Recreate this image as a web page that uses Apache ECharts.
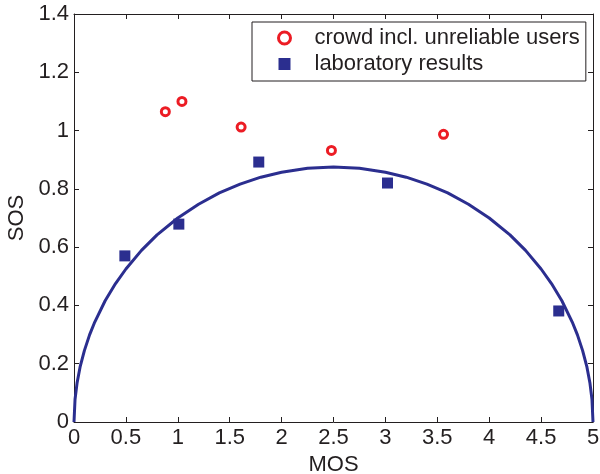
<!DOCTYPE html>
<html>
<head>
<meta charset="utf-8">
<script src="https://cdn.jsdelivr.net/npm/echarts@6/dist/echarts.min.js"></script>
<style>
  html, body { margin: 0; padding: 0; background: #fff; }
  #chart { width: 600px; height: 474px; }
</style>
</head>
<body>
<div id="chart"></div>
<script>
// crowd incl. unreliable users (MOS, SOS)
const crowdMos = [0.88, 1.04, 1.61, 2.48, 3.56]
const crowdSos = [1.065, 1.10, 1.012, 0.932, 0.987]

// laboratory results
const labMos = [0.49, 1.01, 1.78, 3.02, 4.67]
const labSos = [0.570, 0.679, 0.892, 0.820, 0.381]

// fitted SOS curve
const fitMos = [0, 0.01, 0.03, 0.06, 0.1, 0.15, 0.2, 0.3, 0.4, 0.5, 0.65, 0.8, 1.0, 1.2, 1.4, 1.6, 1.8, 2.0, 2.25, 2.5,
  2.75, 3.0, 3.2, 3.4, 3.6, 3.8, 4.0, 4.2, 4.35, 4.5, 4.6, 4.7, 4.8, 4.85, 4.9, 4.94, 4.97, 4.99, 5]
const fitSos = [0, 0.078, 0.135, 0.191, 0.245, 0.299, 0.343, 0.416, 0.475, 0.525, 0.589, 0.642, 0.700, 0.747, 0.786, 0.816, 0.840, 0.857, 0.871, 0.875,
  0.871, 0.857, 0.840, 0.816, 0.786, 0.747, 0.700, 0.642, 0.589, 0.525, 0.475, 0.416, 0.343, 0.299, 0.245, 0.191, 0.135, 0.078, 0]

const FONT = 'Liberation Sans'
const FS = 22
const TXT = '#231f20'
const RED = '#ec1c24'
const BLUE = '#2b2e8f'

const chart = echarts.init(document.getElementById('chart'))

const axisBase = {
  axisLine: { show: true, onZero: false, lineStyle: { color: TXT, width: 1 } },
  axisTick: { show: true, inside: true, length: 5, lineStyle: { color: TXT } },
  splitLine: { show: false },
}

chart.setOption({
  animation: false,
  backgroundColor: '#fff',
  textStyle: { fontFamily: FONT },
  grid: { left: 74, right: 7, top: 14, bottom: 52, containLabel: false, outerBoundsMode: 'none' },
  legend: {
    orient: 'vertical',
    left: 252,
    top: 22,
    backgroundColor: '#fff',
    borderColor: TXT,
    borderWidth: 1,
    padding: [3, 6, 4, 25],
    itemGap: 0,
    itemWidth: 12,
    itemHeight: 12,
    textStyle: { fontSize: FS, lineHeight: 26, color: TXT, fontFamily: FONT, padding: [0, 0, 0, 19] },
    data: [
      { name: 'crowd incl. unreliable users', itemStyle: { borderWidth: 3 } },
      'laboratory results',
    ],
  },
  xAxis: [
    {
      ...axisBase,
      type: 'value',
      min: 0, max: 5, interval: 0.5,
      name: 'MOS',
      nameLocation: 'middle',
      nameGap: 25,
      nameTextStyle: { fontSize: FS, color: TXT, fontFamily: FONT },
      axisLabel: { fontSize: FS, color: TXT, fontFamily: FONT, margin: 5 },
    },
    {
      ...axisBase,
      type: 'value',
      position: 'top',
      min: 0, max: 5, interval: 0.5,
      axisLabel: { show: false },
    },
  ],
  yAxis: [
    {
      ...axisBase,
      type: 'value',
      min: 0, max: 1.4, interval: 0.2,
      name: 'SOS',
      nameLocation: 'middle',
      nameGap: 41,
      nameTextStyle: { fontSize: FS, color: TXT, fontFamily: FONT },
      axisLabel: { fontSize: FS, color: TXT, fontFamily: FONT, margin: 5 },
    },
    {
      ...axisBase,
      type: 'value',
      position: 'right',
      min: 0, max: 1.4, interval: 0.2,
      axisLabel: { show: false },
    },
  ],
  series: [
    {
      name: 'SOS fit',
      type: 'line',
      data: fitMos.map((x, i) => [x, fitSos[i]]),
      showSymbol: false,
      smooth: false,
      lineStyle: { color: BLUE, width: 3 },
      z: 2,
    },
    {
      name: 'crowd incl. unreliable users',
      type: 'scatter',
      data: crowdMos.map((x, i) => [x, crowdSos[i]]),
      symbol: 'circle',
      symbolSize: 8,
      itemStyle: { color: '#fff', borderColor: RED, borderWidth: 3, opacity: 1 },
      z: 3,
    },
    {
      name: 'laboratory results',
      type: 'scatter',
      data: labMos.map((x, i) => [x, labSos[i]]),
      symbol: 'rect',
      symbolSize: 11,
      itemStyle: { color: BLUE, opacity: 1 },
      z: 3,
    },
  ],
})
</script>
</body>
</html>
